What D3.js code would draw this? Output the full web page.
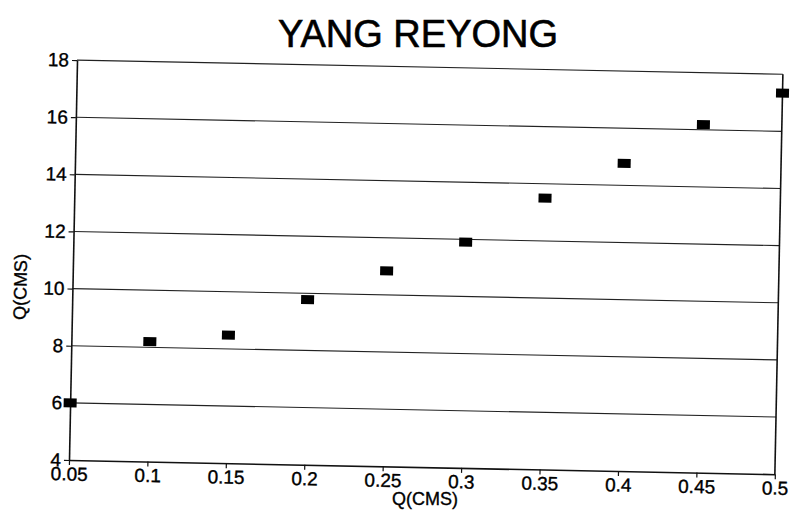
<!DOCTYPE html>
<html>
<head>
<meta charset="utf-8">
<script src="https://cdn.jsdelivr.net/npm/d3@7"></script>
<style>
  html, body { margin: 0; padding: 0; background: #fff; }
  svg { display: block; }
  text { font-family: "Liberation Sans", Arial, Helvetica, sans-serif; fill: #000; stroke: #000; stroke-width: 0.35px; }
</style>
</head>
<body>
<svg id="chart" width="791" height="519"></svg>
<script>
const title = "YANG REYONG";
const xTitle = "Q(CMS)";
const yTitle = "Q(CMS)";
const xValues = [0.05, 0.1, 0.15, 0.2, 0.25, 0.3, 0.35, 0.4, 0.45, 0.5];
const yValues = [6.0, 8.2, 8.48, 9.78, 10.84, 11.9, 13.5, 14.77, 16.18, 17.34];
const xTicks = [0.05, 0.1, 0.15, 0.2, 0.25, 0.3, 0.35, 0.4, 0.45, 0.5];
const xTickLabels = ["0.05", "0.1", "0.15", "0.2", "0.25", "0.3", "0.35", "0.4", "0.45", "0.5"];
const yTicks = [4, 6, 8, 10, 12, 14, 16, 18];

const svg = d3.select("#chart");
const pLeft = 69, pRight = 775, pTop = 60, pBottom = 460;
const angle = 1.15;

const x = d3.scaleLinear().domain([0.05, 0.5]).range([pLeft, pRight]);
const y = d3.scaleLinear().domain([4, 18]).range([pBottom, pTop]);

svg.append("text")
  .attr("x", 418).attr("y", 47)
  .attr("text-anchor", "middle")
  .style("font-size", "38px")
  .style("stroke-width", "0.6px")
  .text(title);

svg.append("text")
  .attr("x", 425).attr("y", 505)
  .attr("text-anchor", "middle")
  .style("font-size", "18px")
  .text(xTitle);

const g = svg.append("g")
  .attr("transform", `rotate(${angle},${pLeft},${pBottom})`);

// gridlines
g.append("g").selectAll("line")
  .data(yTicks.slice(1))
  .join("line")
  .attr("x1", pLeft).attr("x2", pRight)
  .attr("y1", d => y(d)).attr("y2", d => y(d))
  .attr("stroke", "#222").attr("stroke-width", 1.1);

// right border
g.append("line")
  .attr("x1", pRight).attr("x2", pRight)
  .attr("y1", pTop).attr("y2", pBottom)
  .attr("stroke", "#111").attr("stroke-width", 1.6);

// x axis
const xAxis = g.append("g")
  .attr("transform", `translate(0,${pBottom})`)
  .call(d3.axisBottom(x).tickValues(xTicks).tickFormat((d, i) => xTickLabels[i]).tickSize(5).tickSizeOuter(0).tickPadding(2));
xAxis.select(".domain").attr("stroke", "#111").attr("stroke-width", 1.6);
xAxis.selectAll(".tick line").attr("stroke", "#111").attr("stroke-width", 1.2);
xAxis.selectAll("text").style("font-size", "19px").attr("fill", "#000");

// y axis
const yAxis = g.append("g")
  .attr("transform", `translate(${pLeft},0)`)
  .call(d3.axisLeft(y).tickValues(yTicks).tickSize(5).tickSizeOuter(0).tickPadding(3));
yAxis.select(".domain").attr("stroke", "#111").attr("stroke-width", 1.6);
yAxis.selectAll(".tick line").attr("stroke", "#111").attr("stroke-width", 1.2);
yAxis.selectAll("text").style("font-size", "19px").attr("fill", "#000");

// y axis title
g.append("text")
  .attr("transform", `translate(23,${(pTop + pBottom) / 2 + 28}) rotate(-90)`)
  .attr("text-anchor", "middle")
  .style("font-size", "18px")
  .text(yTitle);

// markers
g.append("g").selectAll("rect")
  .data(xValues.map((v, i) => ({ x: v, y: yValues[i] })))
  .join("rect")
  .attr("x", d => x(d.x) - 6.5)
  .attr("y", d => y(d.y) - 4.5)
  .attr("width", 13).attr("height", 9)
  .attr("fill", "#000");
</script>
</body>
</html>
